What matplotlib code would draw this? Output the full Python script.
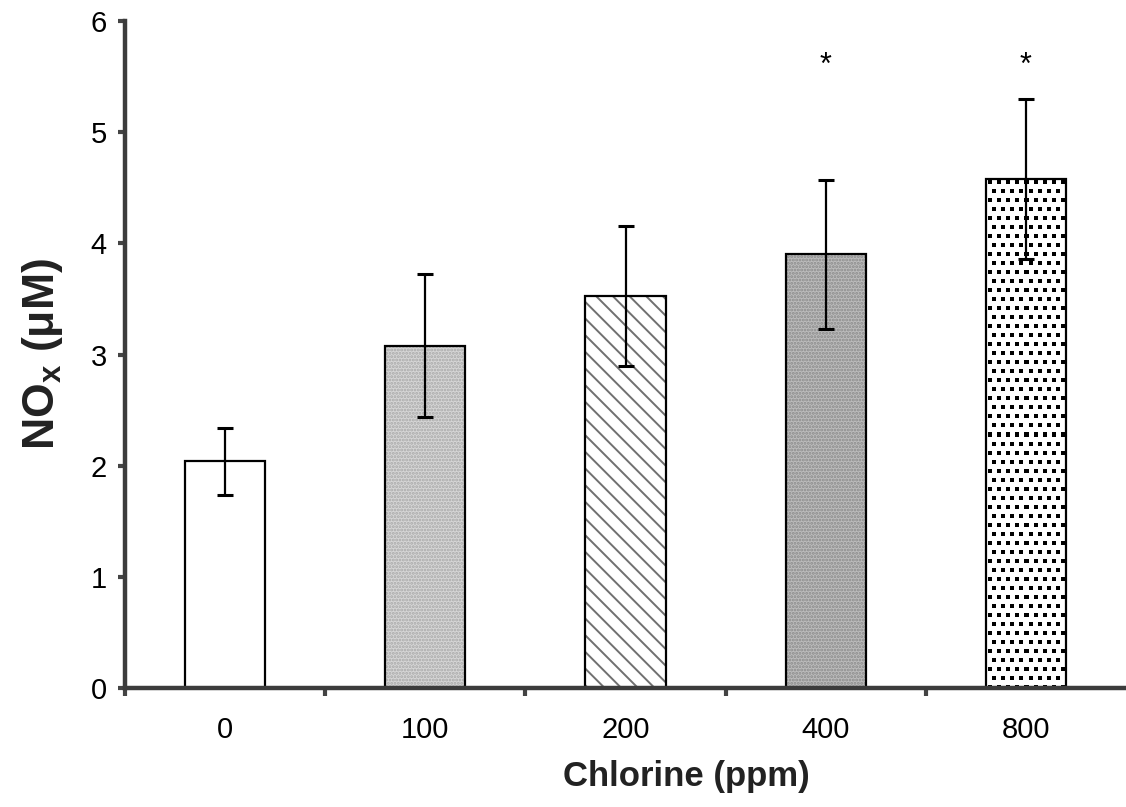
import matplotlib
matplotlib.use("Agg")
import matplotlib.pyplot as plt
import numpy as np

# ---- data ----
categories = ["0", "100", "200", "400", "800"]
values = [2.04, 3.08, 3.53, 3.90, 4.58]
errors = [0.30, 0.64, 0.63, 0.67, 0.72]
significance = ["", "", "", "*", "*"]
y_ticks = [0, 1, 2, 3, 4, 5, 6]

plt.rcParams['font.family'] = ['Liberation Sans', 'DejaVu Sans']
plt.rcParams['mathtext.fontset'] = 'custom'
plt.rcParams['mathtext.rm'] = 'Liberation Sans'
plt.rcParams['mathtext.bf'] = 'Liberation Sans:bold'
plt.rcParams['hatch.linewidth'] = 1.4

fig = plt.figure(figsize=(11.26, 8.07), dpi=100)
ax = fig.add_axes([125 / 1126, 1 - 688 / 807, 1 - 125 / 1126, (688 - 21) / 807])
ax.set_xlim(-0.5, 4.5)
ax.set_ylim(0, 6)

x = np.arange(len(categories))
width = 0.40

faces = ['white', '#d6d6d6', 'white', '#bcbcbc', 'white']
hatches = ['', '.....', '\\\\', '.....', '']
hatch_cols = ['white', '#a8a8a8', '#707070', '#8a8a8a', 'white']

patches = []
for i in range(len(categories)):
    b = ax.bar(x[i], values[i], width, color=faces[i], hatch=hatches[i],
               edgecolor=hatch_cols[i], linewidth=0, zorder=2)
    patches.append(b[0])

# square-dot texture for the last bar (pattern image clipped to the bar)
last = patches[-1]
fig.canvas.draw()
bb = last.get_window_extent()
w_px, h_px = int(round(bb.width)), int(round(bb.height))
tex = np.ones((h_px, w_px))
cell = 9
for r in range(0, h_px, cell):
    off = (r // cell) % 2 * 4
    for c in range(off, w_px, cell):
        tex[r + 2:r + 6, c + 2:c + 6] = 0.0
lx = last.get_x()
im = ax.imshow(tex, cmap='gray', vmin=0, vmax=1, interpolation='nearest',
               extent=[lx, lx + last.get_width(), 0, last.get_height()],
               aspect='auto', zorder=2.5)
im.set_clip_path(last)

ax.bar(x, values, width, fill=False, edgecolor='black', linewidth=1.6, zorder=3)

ax.errorbar(x, values, yerr=errors, fmt='none', ecolor='black',
            elinewidth=1.6, capsize=6, capthick=2.2, zorder=4)

for xi, s in zip(x, significance):
    if s:
        ax.text(xi, 5.60, s, ha='center', va='center', fontsize=22, color='black')

ax.set_xlim(-0.5, 4.5)
ax.set_ylim(0, 6)
ax.set_xticks(x)
ax.set_xticklabels(categories, fontsize=21)
ax.set_xticks(np.arange(-0.5, 4.0, 1.0), minor=True)
ax.set_yticks(y_ticks)
ax.set_yticklabels([str(t) for t in y_ticks], fontsize=21)

ax.tick_params(axis='x', which='major', length=0, pad=20)
ax.tick_params(axis='x', which='minor', length=6, width=3, color='#444444', direction='out')
ax.tick_params(axis='y', which='major', length=5, width=3, color='#444444', direction='out', pad=8)

for side in ['top', 'right']:
    ax.spines[side].set_visible(False)
for side in ['left', 'bottom']:
    ax.spines[side].set_linewidth(3.2)
    ax.spines[side].set_color('#3c3c3c')
    ax.spines[side].set_zorder(5)

ax.set_xlabel('Chlorine (ppm)', fontsize=25, fontweight='bold', color='#222222')
ax.xaxis.set_label_coords(0.561, -0.108)
ax.set_ylabel(r'NO$_\mathbf{x}$ (μM)', fontsize=32, fontweight='bold', color='#222222')
ax.yaxis.set_label_coords(-0.060, 0.5)

fig.savefig('out.png', dpi=100)
